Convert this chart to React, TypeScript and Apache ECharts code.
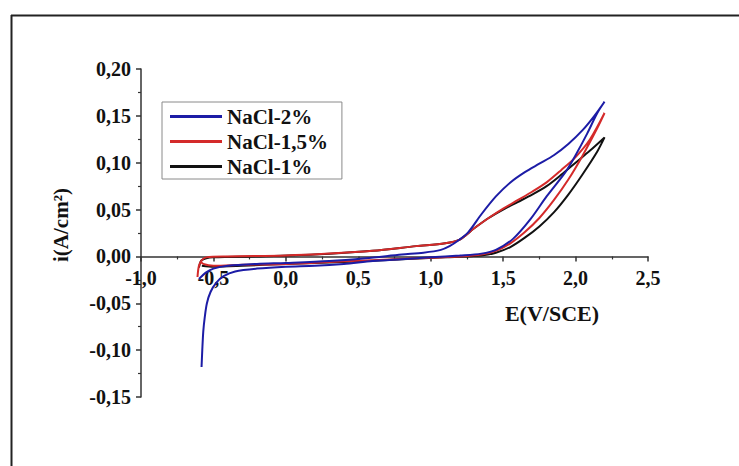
import React, { useEffect, useRef } from 'react';
import * as echarts from 'echarts';

const seriesNames = ['NaCl-2%', 'NaCl-1,5%', 'NaCl-1%'];
const seriesColors = ['#1c1ca6', '#d42a2a', '#111111'];

const xTicks = [-1, -0.5, 0, 0.5, 1, 1.5, 2, 2.5];
const yTicks = [-0.15, -0.1, -0.05, 0, 0.05, 0.1, 0.15, 0.2];

// NaCl-2% : E (V/SCE), i (A/cm2)
const nacl2: [number, number][] = [
  [-0.6, -0.024], [-0.55, -0.017], [-0.5, -0.013], [-0.4, -0.01], [-0.2, -0.008],
  [0.0, -0.007], [0.3, -0.005], [0.55, -0.002], [0.8, 0.002], [0.95, 0.004],
  [1.07, 0.007], [1.13, 0.011], [1.19, 0.017], [1.26, 0.026], [1.35, 0.045],
  [1.45, 0.064], [1.55, 0.079], [1.65, 0.09], [1.75, 0.099], [1.85, 0.108],
  [1.95, 0.12], [2.05, 0.135], [2.13, 0.15], [2.2, 0.165],
  [2.15, 0.153], [2.08, 0.131], [2.0, 0.108], [1.93, 0.09], [1.8, 0.064],
  [1.69, 0.04], [1.57, 0.019], [1.45, 0.007], [1.35, 0.003], [1.2, 0.001],
  [1.0, -0.001], [0.8, -0.003], [0.6, -0.005], [0.4, -0.008], [0.2, -0.01],
  [0.0, -0.011], [-0.2, -0.013], [-0.35, -0.016], [-0.43, -0.021], [-0.48, -0.028],
  [-0.52, -0.038], [-0.545, -0.05], [-0.56, -0.065], [-0.57, -0.08], [-0.577, -0.1],
  [-0.582, -0.118],
];

// NaCl-1,5%
const nacl15: [number, number][] = [
  [-0.61, -0.022], [-0.6, -0.01], [-0.58, -0.004], [-0.55, -0.001], [-0.4, 0.0],
  [0.0, 0.001], [0.3, 0.003], [0.6, 0.006], [0.9, 0.011], [1.1, 0.014],
  [1.2, 0.018], [1.3, 0.03], [1.4, 0.041], [1.5, 0.051], [1.6, 0.06],
  [1.7, 0.069], [1.8, 0.079], [1.9, 0.092], [2.0, 0.106], [2.1, 0.125],
  [2.2, 0.153],
  [2.15, 0.137], [2.05, 0.108], [1.95, 0.082], [1.85, 0.06], [1.75, 0.041],
  [1.65, 0.026], [1.55, 0.014], [1.45, 0.006], [1.35, 0.002], [1.2, 0.0],
  [0.9, -0.002], [0.6, -0.004], [0.3, -0.006], [0.0, -0.008], [-0.3, -0.009],
  [-0.5, -0.01], [-0.57, -0.008], [-0.59, -0.005],
];

// NaCl-1%
const nacl1: [number, number][] = [
  [-0.6, -0.012], [-0.58, -0.004], [-0.5, -0.001], [-0.2, 0.0], [0.2, 0.002],
  [0.6, 0.006], [0.9, 0.011], [1.1, 0.014], [1.2, 0.018], [1.3, 0.03],
  [1.4, 0.041], [1.5, 0.05], [1.6, 0.058], [1.7, 0.066], [1.8, 0.075],
  [1.9, 0.087], [2.0, 0.1], [2.1, 0.113], [2.2, 0.127],
  [2.15, 0.112], [2.05, 0.088], [1.95, 0.066], [1.85, 0.047], [1.75, 0.032],
  [1.65, 0.02], [1.55, 0.01], [1.45, 0.004], [1.35, 0.001], [1.1, -0.001],
  [0.8, -0.003], [0.4, -0.006], [0.0, -0.008], [-0.3, -0.01], [-0.5, -0.011],
  [-0.58, -0.01],
];

const xName = 'E(V/SCE)';
const yName = 'i(A/cm²)';

const FONT = "'Liberation Serif', 'Times New Roman', serif";

const GRID_TOP = 69;
const GRID_BOTTOM = 69;
const CHART_H = 466;

export default function App() {
  const ref = useRef<HTMLDivElement>(null);
  useEffect(() => {
    if (!ref.current) return;
    const chart = echarts.init(ref.current, undefined, { renderer: 'svg' });
    const axisColor = '#333';
    const labelStyle = {
      fontFamily: FONT,
      fontWeight: 'bold' as const,
      fontSize: 20,
      color: '#111',
    };
    const yMin = yTicks[0];
    const yMax = yTicks[yTicks.length - 1];
    const plotH = CHART_H - GRID_TOP - GRID_BOTTOM;
    // distance from the bottom of the grid up to the zero line
    const zeroOffset = ((0 - yMin) / (yMax - yMin)) * plotH;
    const mk = (name: string, data: [number, number][], color: string) => ({
      name,
      type: 'line' as const,
      data,
      symbol: 'none',
      showSymbol: false,
      smooth: 0.3,
      lineStyle: { color, width: 2 },
      itemStyle: { color },
    });
    chart.setOption({
      animation: false,
      backgroundColor: '#ffffff',
      grid: { left: 141, right: 91, top: GRID_TOP, bottom: GRID_BOTTOM, containLabel: false },
      legend: {
        data: seriesNames,
        orient: 'vertical',
        left: 162,
        top: 102,
        padding: [2, 14, 0, 8],
        itemGap: 0,
        icon: 'rect',
        itemWidth: 52,
        itemHeight: 3,
        borderColor: '#8a8a8a',
        borderWidth: 1,
        textStyle: { ...labelStyle, fontSize: 21, lineHeight: 25, color: '#111' },
      },
      xAxis: {
        type: 'value',
        position: 'bottom',
        offset: -zeroOffset,
        min: xTicks[0],
        max: xTicks[xTicks.length - 1],
        interval: 0.5,
        axisLine: { show: true, onZero: false, lineStyle: { color: axisColor, width: 1.5 } },
        axisTick: { show: true, length: 5, lineStyle: { color: axisColor, width: 1.5 } },
        minorTick: { show: true, splitNumber: 2, length: 3, lineStyle: { color: axisColor, width: 1.2 } },
        splitLine: { show: false },
        axisLabel: {
          ...labelStyle,
          margin: 12,
          formatter: (v: number) => v.toFixed(1).replace('.', ','),
        },
      },
      yAxis: {
        type: 'value',
        min: yMin,
        max: yMax,
        interval: 0.05,
        axisLine: { show: true, onZero: false, lineStyle: { color: axisColor, width: 1.5 } },
        axisTick: { show: true, length: 5, lineStyle: { color: axisColor, width: 1.5 } },
        minorTick: { show: true, splitNumber: 2, length: 3, lineStyle: { color: axisColor, width: 1.2 } },
        splitLine: { show: false },
        axisLabel: {
          ...labelStyle,
          margin: 10,
          formatter: (v: number) => v.toFixed(2).replace('.', ','),
        },
      },
      graphic: [
        { type: 'line', shape: { x1: 11, y1: 15.5, x2: 739, y2: 15.5 }, style: { stroke: '#222', lineWidth: 2 } },
        { type: 'line', shape: { x1: 11.5, y1: 15, x2: 11.5, y2: 466 }, style: { stroke: '#222', lineWidth: 2 } },
        {
          type: 'text',
          x: 552,
          y: 313,
          style: {
            text: xName,
            font: `bold 22px ${FONT}`,
            fill: '#111',
            textAlign: 'center',
            textVerticalAlign: 'middle',
          },
        },
        {
          type: 'text',
          x: 61,
          y: 225,
          rotation: Math.PI / 2,
          style: {
            text: yName,
            font: `bold 21px ${FONT}`,
            fill: '#111',
            textAlign: 'center',
            textVerticalAlign: 'middle',
          },
        },
      ],
      series: [
        mk(seriesNames[2], nacl1, seriesColors[2]),
        mk(seriesNames[1], nacl15, seriesColors[1]),
        mk(seriesNames[0], nacl2, seriesColors[0]),
      ],
    });
    return () => chart.dispose();
  }, []);
  return (
    <div
      ref={ref}
      style={{ position: 'fixed', left: 0, top: 0, width: 739, height: 466, background: '#fff' }}
    />
  );
}
